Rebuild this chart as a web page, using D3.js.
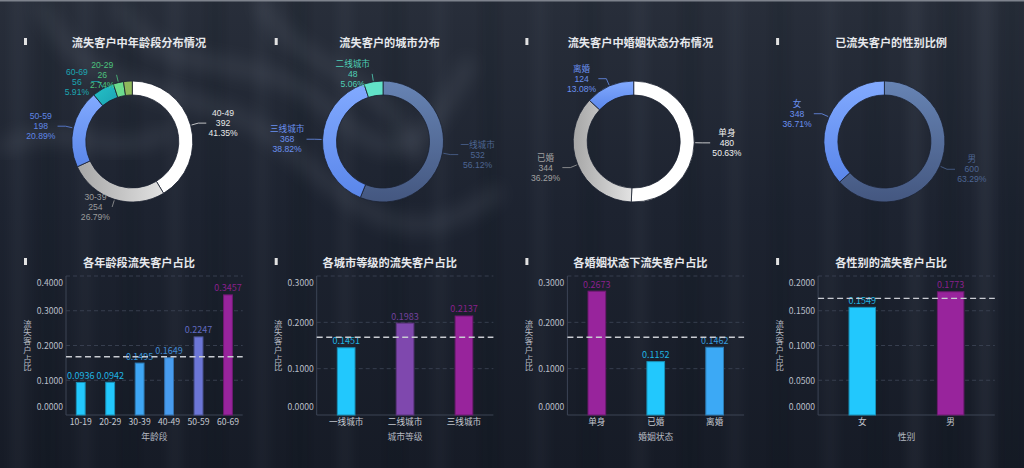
<!DOCTYPE html>
<html><head><meta charset="utf-8">
<script src="https://cdn.jsdelivr.net/npm/d3@7"></script>
<style>
html,body{margin:0;padding:0;background:#1b212d;overflow:hidden}
svg{display:block;font-family:"Noto Sans CJK SC","Noto Sans",sans-serif}
</style>
</head><body>
<svg id="c" width="1024" height="468"></svg>
<script>
// ---------- DATA ----------
const ageDistNames = ['40-49','30-39','50-59','60-69','20-29','10-19'];
const ageDistValues = [392,254,198,56,26,22];
const cityDistNames = ['一线城市','三线城市','二线城市'];
const cityDistValues = [532,368,48];
const maritalDistNames = ['单身','已婚','离婚'];
const maritalDistValues = [480,344,124];
const genderDistNames = ['男','女'];
const genderDistValues = [600,348];

const ageGroups = ['10-19','20-29','30-39','40-49','50-59','60-69'];
const ageRates = [0.0936,0.0942,0.1495,0.1649,0.2247,0.3457];
const cityTiers = ['一线城市','二线城市','三线城市'];
const cityRates = [0.1451,0.1983,0.2137];
const maritalStatus = ['单身','已婚','离婚'];
const maritalRates = [0.2673,0.1152,0.1462];
const genders = ['女','男'];
const genderRates = [0.1549,0.1773];
const overallRate = 0.1678;

const ageTicks = [0,0.1,0.2,0.3,0.4];
const cityTicks = [0,0.1,0.2,0.3];
const maritalTicks = [0,0.1,0.2,0.3];
const genderTicks = [0,0.05,0.1,0.15,0.2];

const donutTitles = ['流失客户中年龄段分布情况','流失客户的城市分布','流失客户中婚姻状态分布情况','已流失客户的性别比例'];
const barTitles = ['各年龄段流失客户占比','各城市等级的流失客户占比','各婚姻状态下流失客户占比','各性别的流失客户占比'];
const xTitles = ['年龄段','城市等级','婚姻状态','性别'];
const yTitle = '流失客户占比';

// ---------- STYLE ----------
const W = 1024, H = 468, colW = 250.7;
const svg = d3.select('#c');
const defs = svg.append('defs');

// background
const bgG = defs.append('linearGradient').attr('id','bgGrad').attr('x1',0).attr('y1',0).attr('x2',0).attr('y2',1);
[['0%','#282e3a'],['45%','#1d2330'],['100%','#161b26']].forEach(s=>bgG.append('stop').attr('offset',s[0]).attr('stop-color',s[1]));
defs.append('filter').attr('id','blur6').attr('x','-50%').attr('y','-10%').attr('width','200%').attr('height','120%')
  .append('feGaussianBlur').attr('stdDeviation',6);
defs.append('filter').attr('id','blur10').attr('x','-50%').attr('y','-50%').attr('width','200%').attr('height','200%')
  .append('feGaussianBlur').attr('stdDeviation',9);
const bg = svg.append('g');
bg.append('rect').attr('width',W).attr('height',H).attr('fill','url(#bgGrad)');
const folds = [[18,1,0.06],[48,-1,0.12],[85,1,0.05],[130,-1,0.10],[175,1,0.06],[215,-1,0.10],[262,1,0.05],[300,-1,0.12],[345,1,0.06],[395,-1,0.10],[440,1,0.05],[490,-1,0.12],[540,1,0.05],[590,-1,0.10],[640,1,0.06],[690,-1,0.12],[735,1,0.05],[780,-1,0.10],[830,1,0.05],[875,-1,0.10],[915,1,0.08],[950,-1,0.12],[985,1,0.09],[1012,-1,0.10]];
bg.selectAll('rect.fold').data(folds).join('rect').attr('class','fold')
  .attr('x',d=>d[0]-7).attr('y',-20).attr('width',14).attr('height',H+40)
  .attr('fill',d=>d[1]>0?'#9aa3b2':'#05080e').attr('opacity',d=>d[2]).attr('filter','url(#blur6)');
const swirls = ['M40,0 C90,120 200,70 290,150 S420,250 500,190',
  'M120,0 C150,90 260,40 330,110 S430,140 470,60',
  'M260,0 C300,80 380,60 420,160',
  'M0,150 C60,110 110,170 170,130'];
bg.selectAll('path.sw').data(swirls).join('path').attr('class','sw').attr('d',d=>d)
  .attr('fill','none').attr('stroke','#8e96a4').attr('stroke-width',14).attr('opacity',0.17).attr('filter','url(#blur10)');
bg.append('rect').attr('x',0).attr('y',0).attr('width',W).attr('height',1.5).attr('fill','#7d828c');

// gradients for donut slices
function grad(id, c1, c2, x2, y2){
  const g = defs.append('linearGradient').attr('id',id).attr('x1',0).attr('y1',0).attr('x2',x2).attr('y2',y2);
  g.append('stop').attr('offset','0%').attr('stop-color',c1);
  g.append('stop').attr('offset','100%').attr('stop-color',c2);
  return `url(#${id})`;
}
const cWhite = '#ffffff';
const cGray = grad('gGray','#a6a6a6','#e2e2e2',1,0);
const cBlue = grad('gBlue','#82aaff','#5a86ea',0,1);
const cSlate = grad('gSlate','#6784b4','#445780',0,1);
const cTeal = grad('gTeal','#26c2c8','#1aa2b2',1,1);
const ageDistColors = [cWhite,cGray,cBlue,cTeal,'#6cdc8e','#8fb95c'];
const ageDistLabelColors = ['#e8e8e8','#9b9b9b','#5f86e6','#1ba6b2','#4cc27e','#8fb95c'];
const cityDistColors = [cSlate,cBlue,'#62e2c8'];
const cityDistLabelColors = ['#4d6592','#6a90f0','#4fcfb6'];
const maritalDistColors = [cWhite,cGray,cBlue];
const maritalDistLabelColors = ['#f0f0f0','#a0a0a0','#6a90f0'];
const genderDistColors = [cSlate,cBlue];
const genderDistLabelColors = ['#4d6592','#6a90f0'];

// panel headers
function header(i, row, title){
  const y = row===0 ? 38 : 258;
  svg.append('rect').attr('x',24+colW*i).attr('y',y).attr('width',3).attr('height',7).attr('fill','#e2e2e2');
  svg.append('text').attr('x',139+colW*i).attr('y',y+3.5).attr('text-anchor','middle').attr('dominant-baseline','central')
    .attr('font-size',11.2).attr('font-weight','bold').attr('fill','#e6e8ec').text(title);
}

// ---------- DONUTS ----------
function donut(i, names, values, colors, labelColors){
  const cx = 132.3 + colW*i, cy = 141.5, R = 60.5, r = 46.5;
  const total = d3.sum(values);
  const data = names.map((n,k)=>({n, v:values[k], k}));
  const arcs = d3.pie().sort(null).value(d=>d.v)(data);
  const arc = d3.arc().innerRadius(r).outerRadius(R);
  const g = svg.append('g').attr('transform',`translate(${cx},${cy})`);
  g.selectAll('path.slice').data(arcs).join('path').attr('class','slice')
    .attr('d',arc).attr('fill',d=>colors[d.data.k]).attr('stroke','#1b2130').attr('stroke-width',0.8);
  arcs.forEach(a=>{
    const pct = a.data.v/total*100;
    if (pct < 2.5) return;
    const mid = (a.startAngle+a.endAngle)/2;
    const s = Math.sin(mid), c = -Math.cos(mid);
    const dir = s >= 0 ? 1 : -1;
    const len2 = Math.abs(s) < 0.3 ? 0 : 8;
    const p1 = [(R+1)*s,(R+1)*c], p2 = [(R+8)*s,(R+8)*c], p3 = [p2[0]+dir*len2,p2[1]];
    const col = labelColors[a.data.k];
    g.append('polyline').attr('points',[p1,p2,p3].map(p=>p.join(',')).join(' '))
      .attr('fill','none').attr('stroke',col).attr('stroke-width',0.8);
    const lines = [a.data.n, String(a.data.v), pct.toFixed(2)+'%'];
    const t = g.append('text').attr('font-size',8.6).attr('fill',col).attr('text-anchor','middle')
      .attr('font-family','"Liberation Sans","Noto Sans CJK SC",sans-serif');
    lines.forEach((l,j)=>t.append('tspan').attr('x',0).attr('y',p3[1]+(j-1)*10).attr('dy','0.35em').text(l));
    const bw = t.node().getBBox().width;
    const tx = p3[0] + dir*(2 + bw/2);
    t.selectAll('tspan').attr('x',tx);
  });
}

// ---------- BARS ----------
const colorStops = ['#22c8fd','#3ea6f4','#6b7ad9','#7f47ad','#98249c'];
const stopPos = [0,0.22,0.5,0.78,1];
function barChart(i, cats, vals, ticks){
  const x0 = 66 + colW*i, w = 176.7, top = 276, bottom = 415;
  const x = d3.scaleBand().domain(cats).range([x0,x0+w]);
  const y = d3.scaleLinear().domain([0,d3.max(ticks)]).range([bottom,top]);
  const lo = d3.min(vals), hi = d3.max(vals);
  const cscale = d3.scaleLinear().domain(stopPos.map(p=>lo+p*(hi-lo))).range(colorStops).interpolate(d3.interpolateRgb);
  const g = svg.append('g');
  // grid
  g.selectAll('line.grid').data(ticks.slice(1)).join('line').attr('class','grid')
    .attr('x1',x0).attr('x2',x0+w).attr('y1',d=>y(d)).attr('y2',d=>y(d))
    .attr('stroke','#3a4252').attr('stroke-width',0.9).attr('stroke-dasharray','4,3');
  // axis lines
  g.append('line').attr('x1',x0).attr('x2',x0).attr('y1',top).attr('y2',bottom).attr('stroke','#3c4455').attr('stroke-width',1);
  g.append('line').attr('x1',x0).attr('x2',x0+w).attr('y1',bottom).attr('y2',bottom).attr('stroke','#3c4455').attr('stroke-width',1);
  // y axis labels
  const ya = g.append('g').attr('transform',`translate(${x0},0)`)
    .call(d3.axisLeft(y).tickValues(ticks).tickFormat(d3.format('.4f')).tickSize(0).tickPadding(3));
  ya.select('.domain').remove();
  ya.selectAll('text').attr('font-size',8.6).attr('fill','#b9bec8').attr('font-family','"Noto Sans CJK SC",sans-serif')
    .attr('dy',(d,k)=> k===0 ? '-0.6em' : (k===ticks.length-1 ? '1.1em' : '0.32em'));
  // x axis labels
  const xa = g.append('g').attr('transform',`translate(0,${bottom})`)
    .call(d3.axisBottom(x).tickSize(0).tickPadding(4));
  xa.select('.domain').remove();
  xa.selectAll('text').attr('font-size',8.6).attr('fill','#c4c8d0').attr('font-family','"Noto Sans CJK SC",sans-serif');
  // bars
  const bw = x.bandwidth()*0.3;
  g.selectAll('rect.bar').data(vals).join('rect').attr('class','bar')
    .attr('x',(d,k)=>x(cats[k])+x.bandwidth()/2-bw/2).attr('width',bw)
    .attr('y',d=>y(d)).attr('height',d=>bottom-y(d))
    .attr('fill',d=>cscale(d)).attr('stroke',d=>d3.color(cscale(d)).darker(0.9)).attr('stroke-width',1);
  g.selectAll('text.val').data(vals).join('text').attr('class','val')
    .attr('x',(d,k)=>x(cats[k])+x.bandwidth()/2).attr('y',d=>y(d)-3.5)
    .attr('text-anchor','middle').attr('font-size',9).attr('fill',d=>d3.color(cscale(d)).darker(0.3))
    .text(d=>d.toFixed(4));
  // average line
  g.append('line').attr('x1',x0).attr('x2',x0+w).attr('y1',y(overallRate)).attr('y2',y(overallRate))
    .attr('stroke','#c9ccd2').attr('stroke-width',1.4).attr('stroke-dasharray','6,3.5');
  // axis titles
  g.append('text').attr('x',x0+w/2).attr('y',440).attr('text-anchor','middle').attr('font-size',8.8)
    .attr('fill','#b4b8c0').text(xTitles[i]);
  g.append('text').attr('x',x0-38.5).attr('y',(top+bottom)/2)
    .style('writing-mode','vertical-rl').attr('text-anchor','middle')
    .attr('font-size',8.4).attr('letter-spacing',0.4).attr('fill','#b4b8c0')
    .text(yTitle);
}

donutTitles.forEach((t,i)=>header(i,0,t));
barTitles.forEach((t,i)=>header(i,1,t));
donut(0, ageDistNames, ageDistValues, ageDistColors, ageDistLabelColors);
donut(1, cityDistNames, cityDistValues, cityDistColors, cityDistLabelColors);
donut(2, maritalDistNames, maritalDistValues, maritalDistColors, maritalDistLabelColors);
donut(3, genderDistNames, genderDistValues, genderDistColors, genderDistLabelColors);
barChart(0, ageGroups, ageRates, ageTicks);
barChart(1, cityTiers, cityRates, cityTicks);
barChart(2, maritalStatus, maritalRates, maritalTicks);
barChart(3, genders, genderRates, genderTicks);
</script>
</body></html>
